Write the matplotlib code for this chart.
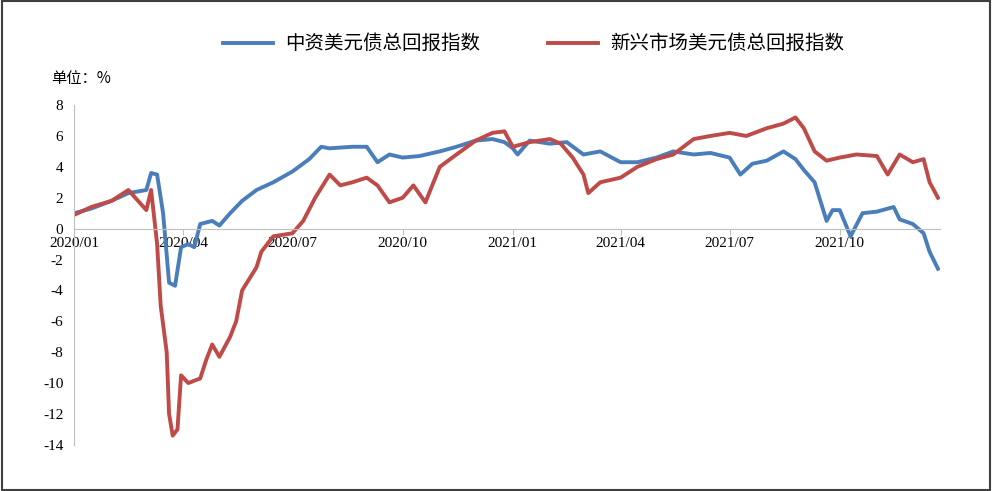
import matplotlib
matplotlib.use("Agg")
import matplotlib.pyplot as plt
import matplotlib.dates as mdates
import pandas as pd
from matplotlib.patches import Rectangle

blue_dates = ["2020-01-01","2020-01-15","2020-02-01","2020-02-15","2020-03-01","2020-03-05","2020-03-10","2020-03-15","2020-03-20","2020-03-25","2020-03-30","2020-04-05","2020-04-10","2020-04-15","2020-04-25","2020-05-01","2020-05-10","2020-05-20","2020-06-01","2020-06-15","2020-07-01","2020-07-15","2020-07-25","2020-08-01","2020-08-20","2020-09-01","2020-09-10","2020-09-20","2020-10-01","2020-10-15","2020-11-01","2020-11-15","2020-12-01","2020-12-15","2020-12-25","2021-01-01","2021-01-05","2021-01-15","2021-02-01","2021-02-15","2021-03-01","2021-03-15","2021-04-01","2021-04-15","2021-05-01","2021-05-15","2021-06-01","2021-06-15","2021-07-01","2021-07-10","2021-07-20","2021-08-01","2021-08-15","2021-08-25","2021-09-01","2021-09-10","2021-09-20","2021-09-25","2021-10-01","2021-10-10","2021-10-20","2021-11-01","2021-11-15","2021-11-20","2021-12-01","2021-12-10","2021-12-15","2021-12-22"]
blue_vals = [1.0,1.3,1.8,2.3,2.5,3.6,3.5,1.0,-3.5,-3.7,-1.2,-1.0,-1.2,0.3,0.5,0.2,1.0,1.8,2.5,3.0,3.7,4.5,5.3,5.2,5.3,5.3,4.3,4.8,4.6,4.7,5.0,5.3,5.7,5.8,5.6,5.2,4.8,5.7,5.5,5.6,4.8,5.0,4.3,4.3,4.6,5.0,4.8,4.9,4.6,3.5,4.2,4.4,5.0,4.5,3.8,3.0,0.5,1.2,1.2,-0.5,1.0,1.1,1.4,0.6,0.3,-0.3,-1.5,-2.6]

red_dates = ["2020-01-01","2020-01-15","2020-02-01","2020-02-15","2020-03-01","2020-03-05","2020-03-10","2020-03-13","2020-03-18","2020-03-20","2020-03-23","2020-03-27","2020-03-30","2020-04-05","2020-04-15","2020-04-20","2020-04-25","2020-05-01","2020-05-10","2020-05-15","2020-05-20","2020-06-01","2020-06-05","2020-06-15","2020-07-01","2020-07-10","2020-07-20","2020-08-01","2020-08-10","2020-08-20","2020-09-01","2020-09-10","2020-09-20","2020-10-01","2020-10-10","2020-10-20","2020-11-01","2020-11-15","2020-12-01","2020-12-15","2020-12-25","2021-01-01","2021-01-15","2021-02-01","2021-02-10","2021-02-20","2021-03-01","2021-03-05","2021-03-15","2021-04-01","2021-04-15","2021-05-01","2021-05-15","2021-06-01","2021-06-15","2021-07-01","2021-07-15","2021-08-01","2021-08-15","2021-08-25","2021-09-01","2021-09-10","2021-09-20","2021-10-01","2021-10-15","2021-11-01","2021-11-10","2021-11-20","2021-12-01","2021-12-10","2021-12-15","2021-12-22"]
red_vals = [0.9,1.4,1.8,2.5,1.2,2.5,-1.0,-5.0,-8.0,-12.0,-13.4,-13.0,-9.5,-10.0,-9.7,-8.5,-7.5,-8.3,-7.0,-6.0,-4.0,-2.5,-1.5,-0.5,-0.3,0.5,2.0,3.5,2.8,3.0,3.3,2.8,1.7,2.0,2.8,1.7,4.0,4.8,5.7,6.2,6.3,5.3,5.6,5.8,5.5,4.6,3.5,2.3,3.0,3.3,4.0,4.5,4.8,5.8,6.0,6.2,6.0,6.5,6.8,7.2,6.5,5.0,4.4,4.6,4.8,4.7,3.5,4.8,4.3,4.5,3.0,2.0]

labels = ["中资美元债总回报指数", "新兴市场美元债总回报指数"]
yticks = list(range(-14, 10, 2))
xtick_dates = ["2020-01-01","2020-04-01","2020-07-01","2020-10-01","2021-01-01","2021-04-01","2021-07-01","2021-10-01"]

plt.rcParams['font.family'] = ['Liberation Serif', 'Noto Sans CJK SC']
fig = plt.figure(figsize=(9.93, 4.91), dpi=100)
ax = fig.add_axes([0.075, 0.094, 0.872, 0.692])
ax.plot(pd.to_datetime(blue_dates), blue_vals, color='#4a7ebb', lw=2.8, label=labels[0])
ax.plot(pd.to_datetime(red_dates), red_vals, color='#be4b48', lw=2.8, label=labels[1])
ax.set_ylim(-14, 8)
ax.set_xlim(pd.Timestamp("2020-01-01"), pd.Timestamp("2021-12-24"))
ax.set_yticks(yticks)
ax.set_yticklabels([str(v) for v in yticks], fontsize=11)
ax.set_xticks(pd.to_datetime(xtick_dates))
ax.xaxis.set_major_formatter(mdates.DateFormatter("%Y/%m"))
for s in ['top', 'right']:
    ax.spines[s].set_visible(False)
ax.spines['left'].set_color('#bfbfbf')
ax.spines['bottom'].set_position(('data', 0))
ax.spines['bottom'].set_color('#bfbfbf')
ax.tick_params(axis='y', length=0, pad=8)
ax.tick_params(axis='x', length=4, color='#bfbfbf', labelsize=11, pad=2)
ax.legend(loc='center', bbox_to_anchor=(0.53, 1.18), ncol=2, frameon=False,
          prop={'family': 'Noto Sans CJK SC', 'size': 14}, handlelength=2.6,
          handletextpad=0.6, columnspacing=3.5)
fig.text(0.052, 0.83, "单位：%", fontsize=11, family=['Noto Sans CJK SC'])
fig.patches.append(Rectangle((0.002, 0.003), 0.995, 0.994, transform=fig.transFigure,
                             fill=False, edgecolor='#404040', lw=1.5))
fig.savefig("out.png", dpi=100)
